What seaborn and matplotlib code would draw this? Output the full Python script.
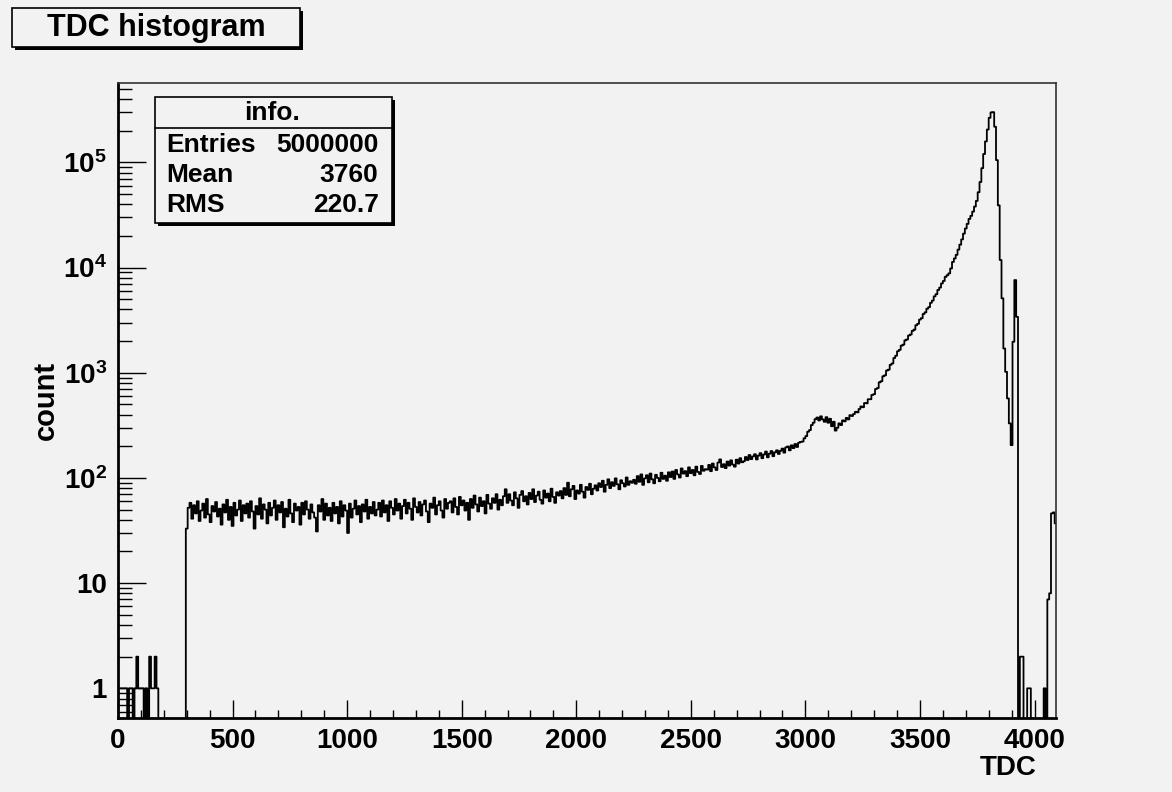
import numpy as np
import pandas as pd
import matplotlib
matplotlib.use("Agg")
import matplotlib.pyplot as plt
from matplotlib.patches import Rectangle
from matplotlib.lines import Line2D
from matplotlib.ticker import FixedLocator, MultipleLocator, NullFormatter
import seaborn as sns

# ---- histogram definition: 512 bins of 8 TDC channels over 0..4096 ----
bin_width = 8
tdc_max = 4096

# bins 0-36 (0-296): sparse noise below threshold
below_threshold = [1, 1, 1, 1, 1, 0, 1, 1, 0, 1,
                   2, 1, 1, 1, 0, 1, 0, 2, 1, 1,
                   2, 1, 0, 0, 0, 0, 0, 0, 0, 0,
                   0, 0, 0, 0, 0, 0, 0]

# bins 37-140 (296-1128): flat plateau
plateau = [33, 52, 58, 41, 55, 46, 60, 39, 49, 57, 42, 63, 45, 38, 54, 48,
           59, 43, 51, 36, 56, 47, 62, 40, 53, 35, 58, 44, 50, 61, 39, 55,
           46, 57, 42, 60, 48, 33, 54, 45, 64, 41, 56, 50, 37, 58, 44, 52,
           61, 40, 55, 47, 59, 34, 51, 43, 62, 46, 38, 57, 49, 53, 36, 58,
           45, 60, 50, 41, 56, 47, 42, 31, 55, 48, 63, 40, 57, 44, 52, 39,
           58, 46, 53, 37, 60, 43, 55, 49, 30, 57, 42, 51, 61, 45, 54, 38,
           56, 48, 62, 41, 53, 46, 59, 44]

# bins 141-372 (1128-2984): slow rise
slow_rise = [50, 58, 43, 61, 47, 55, 39, 60, 52, 45, 63, 49, 57, 41, 54, 62,
             46, 58, 51, 40, 64, 53, 47, 59, 44, 56, 61, 48, 38, 57, 52, 65,
             45, 55, 60, 49, 42, 63, 51, 58,
             60, 47, 64, 53, 45, 66, 55, 61, 49, 58, 40, 63, 52, 68, 56, 48,
             65, 54, 60, 46, 69, 57, 51, 64, 58, 70, 50, 62, 55, 67,
             78, 58, 70, 61, 55, 73, 64, 52, 69, 75, 60, 67, 56, 72, 63, 78,
             59, 68, 74, 62, 57, 76, 65, 71, 60, 79, 66, 58, 73, 68,
             75, 64, 80, 69, 90, 67, 78, 84, 63, 76, 71, 86, 74, 65, 82, 77,
             88, 70, 79, 85,
             76, 89, 82, 94, 74, 86, 97, 80, 91, 84, 99, 87, 78, 95, 89, 83,
             101, 86, 93, 90,
             96, 88, 104, 92, 108, 86, 99, 106, 91, 110, 97, 89, 107, 100, 93, 112,
             98, 105, 94, 113,
             102, 115, 98, 119, 108, 101, 123, 110, 116, 104, 126, 111, 119, 106, 128, 114,
             109, 130, 117, 121,
             120, 133, 116, 137, 126, 119, 140, 150, 127, 135, 124, 143, 131, 147, 134, 128,
             149, 137, 154, 141,
             144, 158, 148, 165, 151, 160, 168, 150, 163, 172, 154, 167, 178, 157, 170, 180,
             161, 175, 183, 169,
             181, 190, 174, 195, 199, 183, 204, 192, 210, 197, 216, 220]

# bins 373-400 (2984-3208): shoulder around 3050
shoulder = [222, 238, 250, 275, 285, 318, 335, 362, 375, 352, 385, 360, 342, 378,
            335, 365, 310, 342, 282, 300, 330, 318, 352, 345, 372, 360, 395, 388]

# bins 401-452 (3208-3624): leading edge of the main peak
leading_edge = [405, 425, 420, 452, 478, 470, 515, 512, 560, 560,
                615, 625, 700, 715, 810, 830, 925, 945, 1050, 1070,
                1190, 1225, 1380, 1450, 1600, 1650, 1810, 1850, 2030, 2070,
                2260, 2310, 2500, 2570, 2830, 2920, 3200, 3300, 3620, 3750,
                4060, 4200, 4620, 4850, 5320, 5580, 6120, 6450, 7060, 7450,
                8150, 8450]

# bins 453-490 (3624-3928): main peak and secondary spike
peak = [8800, 9800, 11300, 12200, 13200, 14800, 16500, 18500, 21000, 23500,
        26000, 29000, 31000, 34000, 38000, 43000, 52000, 65000, 88000, 120000,
        158000, 205000, 265000, 298000, 300000, 218000, 105000, 39000, 11800, 5100,
        1700, 1020, 570, 330, 205, 1970, 7600, 3400]

# bins 491-511 (3928-4096): tail up to the last channel
tail = [0, 2, 2, 0, 0, 1, 1, 0, 0, 0, 0, 0, 0, 0, 1, 0, 7, 8, 46, 47, 37]

counts = np.array(below_threshold + plateau + slow_rise + shoulder +
                  leading_edge + peak + tail, dtype=float)
edges = [float(e) for e in range(0, tdc_max + bin_width, bin_width)]
centers = [e + bin_width / 2 for e in edges[:-1]]
assert len(counts) == len(centers)
hist_df = pd.DataFrame({"TDC": centers, "count": counts})

# statistics box text
stats_title = "info."
stats_rows = [("Entries", "5000000"), ("Mean", "3760"), ("RMS", "220.7")]

y_major = [1, 10, 100, 1e3, 1e4, 1e5]
y_major_labels = ["1", "10", r"$10^{2}$", r"$10^{3}$", r"$10^{4}$", r"$10^{5}$"]
x_major = list(range(0, 4001, 500))

# ---- style ----
BG = "#f2f2f2"
W_PX, H_PX = 1172, 792

sns.set_theme(style="white")
plt.rcParams["font.family"] = ["Liberation Sans", "DejaVu Sans"]
plt.rcParams["font.weight"] = "bold"
plt.rcParams["mathtext.fontset"] = "custom"
plt.rcParams["mathtext.rm"] = "Liberation Sans:bold"
plt.rcParams["mathtext.bf"] = "Liberation Sans:bold"
plt.rcParams["mathtext.it"] = "Liberation Sans:bold"
for key in ("text.color", "axes.labelcolor", "xtick.color", "ytick.color",
            "xtick.labelcolor", "ytick.labelcolor"):
    plt.rcParams[key] = "black"

fig = plt.figure(figsize=(W_PX / 100, H_PX / 100), dpi=100, facecolor=BG)


def fx(x):
    return x / W_PX


def fy(y):
    return 1 - y / H_PX


ax_l, ax_r, ax_t, ax_b = 118, 1056.5, 83.3, 718.3
ax = fig.add_axes([fx(ax_l), fy(ax_b), fx(ax_r - ax_l), (ax_b - ax_t) / H_PX])
ax.set_facecolor(BG)

sns.histplot(data=hist_df, x="TDC", weights="count", bins=edges,
             element="step", fill=False, color="black", linewidth=1.3, ax=ax)

ax.set_yscale("log")
ax.set_xlim(0, tdc_max)
ax.set_ylim(0.519, 5.64e5)

ax.set_xticks(x_major)
ax.set_xticklabels([str(v) for v in x_major])
ax.xaxis.set_minor_locator(MultipleLocator(100))

ax.yaxis.set_major_locator(FixedLocator(y_major))
ax.set_yticklabels(y_major_labels)
y_minor = [0.6, 0.7, 0.8, 0.9]
for d in range(0, 5):
    y_minor += [k * 10 ** d for k in range(2, 10)]
y_minor += [2e5, 3e5, 4e5, 5e5]
ax.yaxis.set_minor_locator(FixedLocator(y_minor))
ax.yaxis.set_minor_formatter(NullFormatter())

ax.tick_params(axis="both", which="both", direction="in", color="black",
               width=1.0, top=False, right=False, bottom=True, left=True)
ax.tick_params(axis="x", which="major", length=13, pad=7, labelsize=20)
ax.tick_params(axis="x", which="minor", length=6)
ax.tick_params(axis="y", which="major", length=20, pad=8, labelsize=20)
ax.tick_params(axis="y", which="minor", length=10)
for lab in ax.get_xticklabels() + ax.get_yticklabels():
    lab.set_fontweight("bold")

for side in ("left", "bottom"):
    ax.spines[side].set_linewidth(2.0)
    ax.spines[side].set_color("black")
for side in ("top", "right"):
    ax.spines[side].set_linewidth(1.2)
    ax.spines[side].set_color("#333333")

ax.set_xlabel("TDC", fontsize=20, fontweight="bold", ha="right", va="center")
ax.xaxis.set_label_coords((1037 - ax_l) / (ax_r - ax_l), (ax_b - 768) / (ax_b - ax_t))
ax.set_ylabel("count", fontsize=21, fontweight="bold", va="center")
ax.yaxis.set_label_coords((46 - ax_l) / (ax_r - ax_l), 0.5)


def shadow_box(x0, y0, x1, y1, off=3, lw=1.2):
    fig.add_artist(Rectangle((fx(x0 + off), fy(y1 + off)), fx(x1 - x0), (y1 - y0) / H_PX,
                             transform=fig.transFigure, facecolor="black",
                             edgecolor="none", zorder=5))
    fig.add_artist(Rectangle((fx(x0), fy(y1)), fx(x1 - x0), (y1 - y0) / H_PX,
                             transform=fig.transFigure, facecolor=BG,
                             edgecolor="black", linewidth=lw, zorder=6))


# title box
shadow_box(12, 8, 300, 47)
fig.text(fx(156), fy(28), "TDC histogram", fontsize=22, fontweight="bold",
         ha="center", va="center", zorder=7)

# statistics box
sx0, sy0, sx1, sy1 = 155, 96.7, 391.7, 223.3
shadow_box(sx0, sy0, sx1, sy1, off=3)
fig.add_artist(Line2D([fx(sx0), fx(sx1)], [fy(127.7), fy(127.7)],
                      transform=fig.transFigure, color="black", linewidth=1.2, zorder=7))
fig.text(fx(272), fy(113), stats_title, fontsize=19, fontweight="bold",
         ha="center", va="center", zorder=7)
for k, (name, val) in enumerate(stats_rows):
    yy = 145 + 30 * k
    fig.text(fx(166.5), fy(yy), name, fontsize=19, fontweight="bold",
             ha="left", va="center", zorder=7)
    fig.text(fx(378.5), fy(yy), val, fontsize=19, fontweight="bold",
             ha="right", va="center", zorder=7)

fig.savefig("out.png", dpi=100, facecolor=BG)
